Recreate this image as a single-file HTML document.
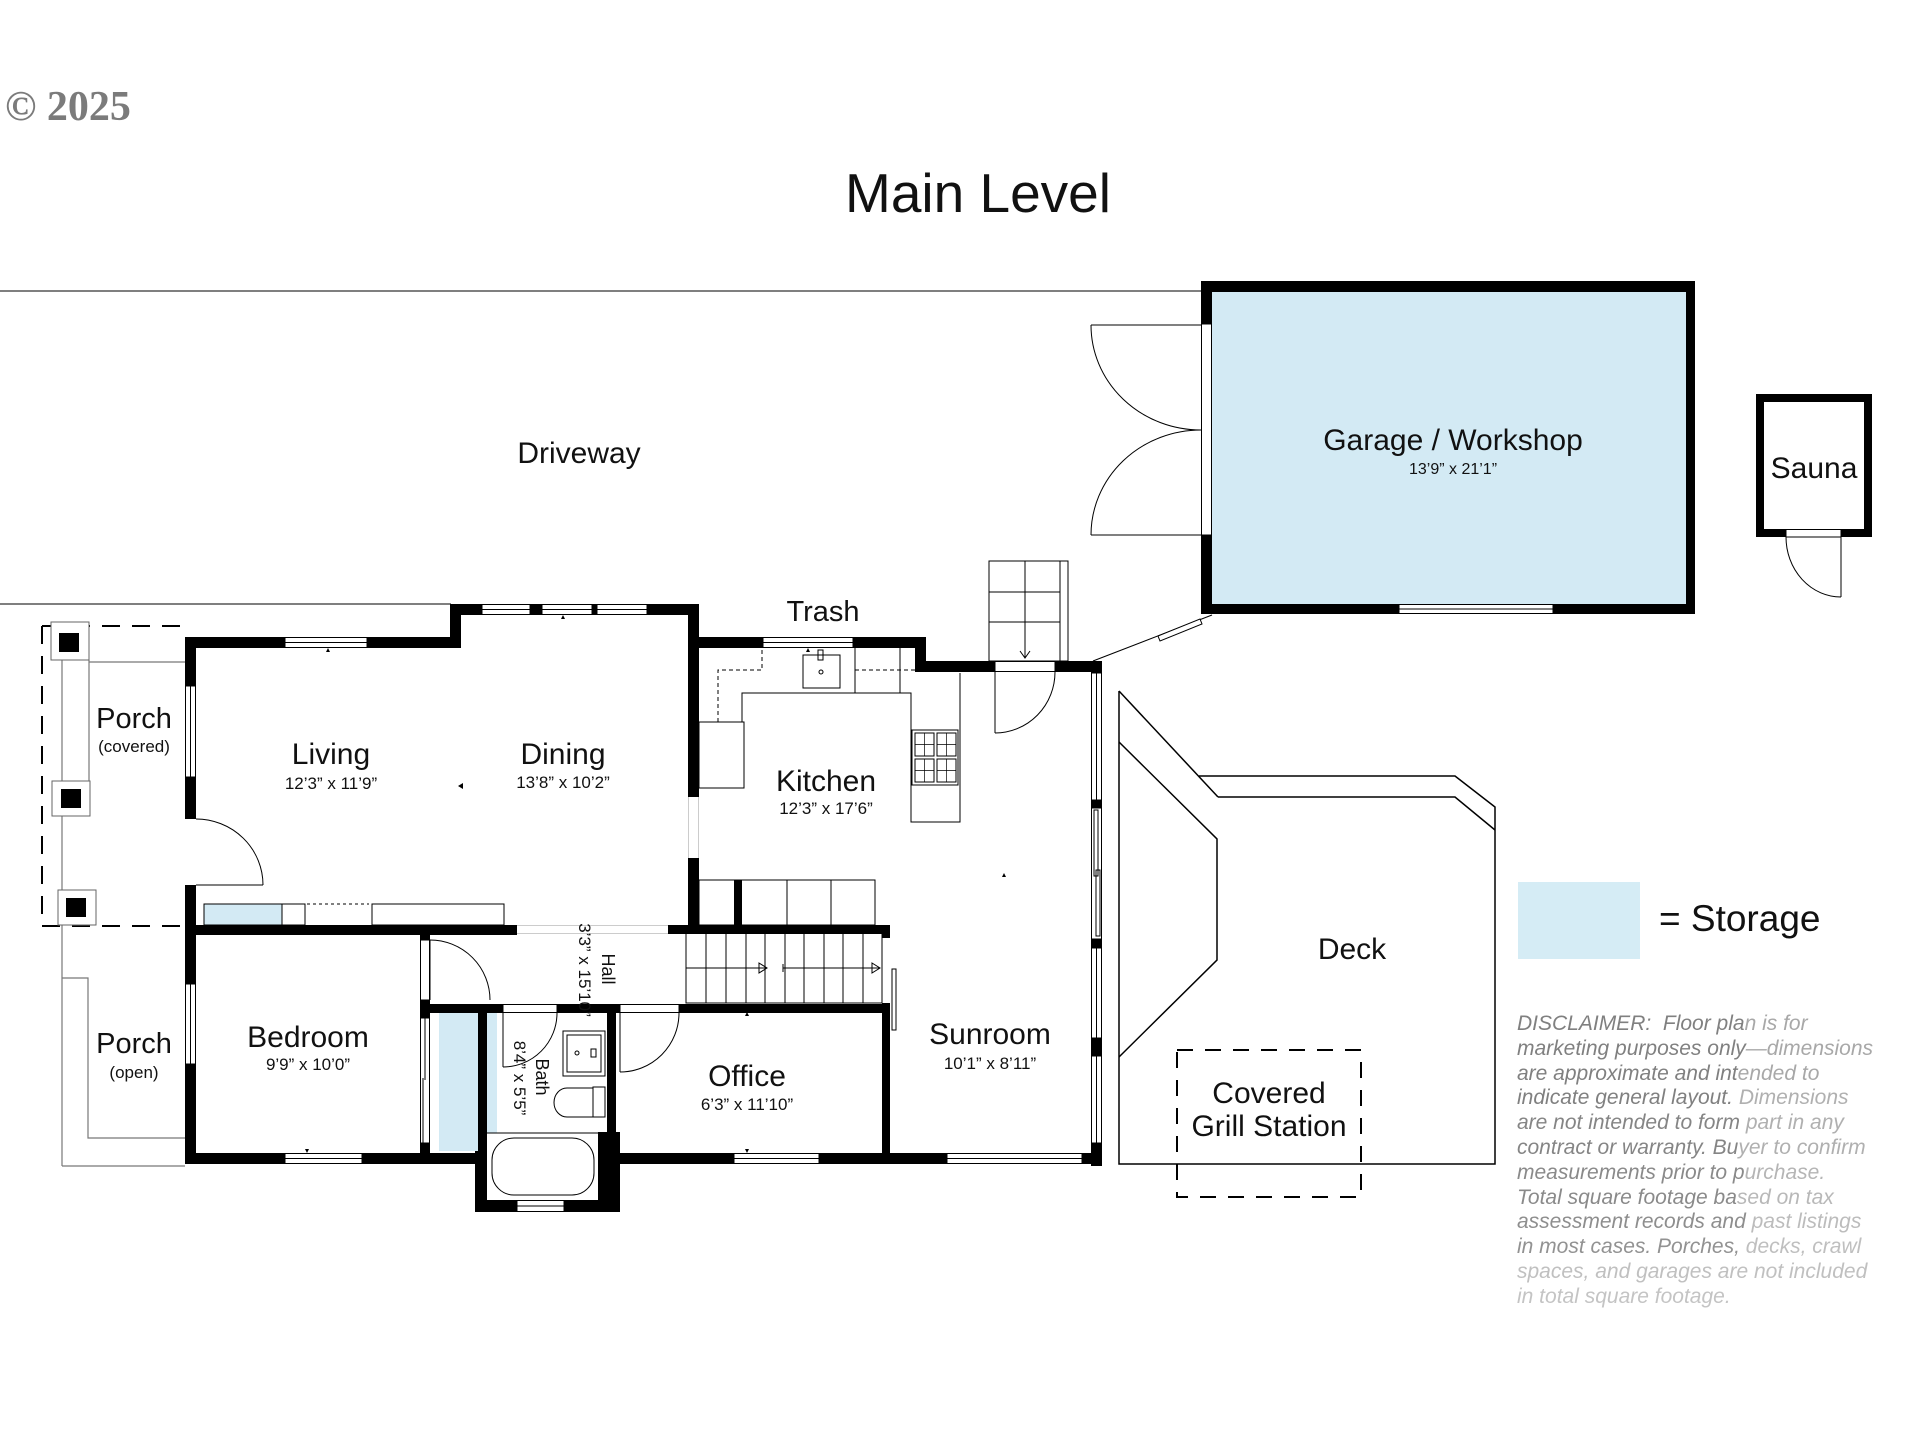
<!DOCTYPE html>
<html><head><meta charset="utf-8"><style>
html,body{margin:0;padding:0;background:#fff;}
svg{display:block;}
text{font-family:"Liberation Sans",sans-serif;fill:#111;}
</style></head><body>
<svg width="1920" height="1440" viewBox="0 0 1920 1440" xmlns="http://www.w3.org/2000/svg">
<rect width="1920" height="1440" fill="#fff"/>

<!-- copyright -->
<text x="5" y="120" style="font-family:'Liberation Serif',serif;font-weight:bold;font-size:42px;fill:#7b7b7b">© 2025</text>

<!-- title -->
<text x="978" y="212" text-anchor="middle" style="font-size:55px">Main Level</text>

<!-- driveway lines -->
<line x1="0" y1="291" x2="1201" y2="291" stroke="#555" stroke-width="1.5"/>
<line x1="0" y1="604" x2="451" y2="604" stroke="#555" stroke-width="1.5"/>
<text x="579" y="463" text-anchor="middle" style="font-size:30px">Driveway</text>

<!-- ===== GARAGE ===== -->
<rect x="1201" y="281" width="494" height="333" fill="#000"/>
<rect x="1212" y="292" width="474" height="312" fill="#d3eaf4"/>
<rect x="1201.5" y="324" width="10" height="211" fill="#fff" stroke="#000" stroke-width="1"/>
<rect x="1399" y="604.5" width="154" height="9" fill="#fff" stroke="#000" stroke-width="1"/>
<line x1="1399" y1="609" x2="1553" y2="609" stroke="#000" stroke-width="1"/>
<g fill="none" stroke="#000" stroke-width="1">
<line x1="1091" y1="325" x2="1201" y2="325"/>
<line x1="1091" y1="535" x2="1201" y2="535"/>
<path d="M1091,325 A110,105 0 0 0 1201,430"/>
<path d="M1091,535 A110,105 0 0 1 1201,430"/>
</g>
<text x="1453" y="450" text-anchor="middle" style="font-size:30px">Garage / Workshop</text>
<text x="1453" y="474" text-anchor="middle" style="font-size:16px">13’9” x 21’1”</text>

<!-- gate line -->
<line x1="1093" y1="661" x2="1212" y2="615" stroke="#000" stroke-width="1"/>
<polygon points="1158,636 1200,619 1202,624 1160,641" fill="#fff" stroke="#000" stroke-width="1"/>

<!-- ===== SAUNA ===== -->
<rect x="1756" y="394" width="116" height="143" fill="#000"/>
<rect x="1764" y="402" width="100" height="127" fill="#fff"/>
<rect x="1786" y="529.5" width="55" height="7.5" fill="#fff" stroke="#000" stroke-width="1"/>
<g fill="none" stroke="#000" stroke-width="1">
<line x1="1841" y1="537" x2="1841" y2="597"/>
<path d="M1786,537 A55,60 0 0 0 1841,597"/>
</g>
<text x="1814" y="478" text-anchor="middle" style="font-size:30px">Sauna</text>

<!-- ===== DECK ===== -->
<g fill="none" stroke="#000" stroke-width="1.5">
<line x1="1119" y1="691" x2="1218" y2="797"/>
<polyline points="1199,776 1455,776 1495,807 1495,1164 1119,1164 1119,691"/>
<polyline points="1218,797 1455,797 1495,830"/>
<polyline points="1119,742 1217,839 1217,960 1119,1057"/>
</g>
<text x="1352" y="959" text-anchor="middle" style="font-size:30px">Deck</text>
<rect x="1177" y="1050" width="184" height="147" fill="none" stroke="#000" stroke-width="2" stroke-dasharray="16 12"/>
<text x="1269" y="1103" text-anchor="middle" style="font-size:30px">Covered</text>
<text x="1269" y="1136" text-anchor="middle" style="font-size:30px">Grill Station</text>

<!-- ===== LEGEND ===== -->
<rect x="1518" y="882" width="122" height="77" fill="#d5ecf5"/>
<text x="1659" y="931" style="font-size:37px">= Storage</text>

<!-- disclaimer -->
<g style="font-style:italic;font-size:21px">
<text x="1517" y="1030"><tspan style="fill:#808080">DISCLAIMER:&#160; Floor pla</tspan><tspan style="fill:#a8a8a8">n is for</tspan></text>
<text x="1517" y="1055"><tspan style="fill:#808080">marketing purposes only</tspan><tspan style="fill:#a8a8a8">—dimensions</tspan></text>
<text x="1517" y="1080"><tspan style="fill:#808080">are approximate and int</tspan><tspan style="fill:#a8a8a8">ended to</tspan></text>
<text x="1517" y="1104"><tspan style="fill:#808080">indicate general layout. </tspan><tspan style="fill:#b0b0b0">Dimensions</tspan></text>
<text x="1517" y="1129"><tspan style="fill:#858585">are not intended to form </tspan><tspan style="fill:#b0b0b0">part in any</tspan></text>
<text x="1517" y="1154"><tspan style="fill:#858585">contract or warranty. Bu</tspan><tspan style="fill:#b0b0b0">yer to confirm</tspan></text>
<text x="1517" y="1179"><tspan style="fill:#8a8a8a">measurements prior to p</tspan><tspan style="fill:#b5b5b5">urchase.</tspan></text>
<text x="1517" y="1204"><tspan style="fill:#8a8a8a">Total square footage ba</tspan><tspan style="fill:#b8b8b8">sed on tax</tspan></text>
<text x="1517" y="1228"><tspan style="fill:#8e8e8e">assessment records and </tspan><tspan style="fill:#bcbcbc">past listings</tspan></text>
<text x="1517" y="1253"><tspan style="fill:#929292">in most cases. Porches, </tspan><tspan style="fill:#bfbfbf">decks, crawl</tspan></text>
<text x="1517" y="1278" style="fill:#c0c0c0">spaces, and garages are not included</text>
<text x="1517" y="1303" style="fill:#c4c4c4">in total square footage.</text>
</g>

<!-- ===== PORCH ===== -->
<g fill="none" stroke="#777" stroke-width="1.2">
<line x1="62" y1="660" x2="62" y2="1166"/>
<line x1="89" y1="660" x2="89" y2="781"/>
<line x1="89" y1="662" x2="185" y2="662"/>
<line x1="62" y1="1166" x2="185" y2="1166"/>
<polyline points="62,978 88,978 88,1138 185,1138"/>
</g>
<g fill="none" stroke="#000" stroke-width="2" stroke-dasharray="18 12">
<line x1="42" y1="626" x2="185" y2="626"/>
<line x1="42" y1="626" x2="42" y2="926"/>
<line x1="42" y1="926" x2="185" y2="926"/>
</g>
<rect x="51" y="622" width="38" height="38" fill="#fff" stroke="#666" stroke-width="1"/>
<rect x="59" y="633" width="20" height="19" fill="#000"/>
<rect x="52" y="781" width="38" height="35" fill="#fff" stroke="#666" stroke-width="1"/>
<rect x="61" y="789" width="20" height="19" fill="#000"/>
<rect x="58" y="890" width="38" height="35" fill="#fff" stroke="#666" stroke-width="1"/>
<rect x="66" y="898" width="20" height="19" fill="#000"/>
<text x="134" y="728" text-anchor="middle" style="font-size:29px">Porch</text>
<text x="134" y="752" text-anchor="middle" style="font-size:17px">(covered)</text>
<text x="134" y="1053" text-anchor="middle" style="font-size:29px">Porch</text>
<text x="134" y="1078" text-anchor="middle" style="font-size:17px">(open)</text>

<!-- ===== FIXTURES (under walls) ===== -->
<rect x="439" y="1013" width="39" height="138" fill="#d3eaf4"/>
<rect x="487" y="1013" width="10" height="120" fill="#d3eaf4"/>
<rect x="204" y="904" width="78" height="21" fill="#d3eaf4" stroke="#000" stroke-width="1"/>
<rect x="282" y="904" width="23" height="21" fill="none" stroke="#000" stroke-width="1"/>
<line x1="307" y1="904" x2="369" y2="904" stroke="#000" stroke-width="1" stroke-dasharray="3 3"/>
<rect x="372" y="904" width="132" height="21" fill="none" stroke="#000" stroke-width="1"/>

<!-- kitchen -->
<g fill="none" stroke="#000" stroke-width="1">
<path d="M718,722 V670 H762 V648" stroke-dasharray="4 3"/>
<line x1="855" y1="670" x2="915" y2="670" stroke-dasharray="4 3"/>
<rect x="699" y="722" width="45" height="66"/>
<path d="M742,722 V693 H911 V822 H960 V673"/>
<line x1="855" y1="648" x2="855" y2="693"/>
<line x1="900" y1="648" x2="900" y2="693"/>
<rect x="803" y="655" width="37" height="33"/>
<rect x="818" y="650" width="5" height="10"/>
<circle cx="821" cy="672" r="2"/>
<rect x="912" y="730" width="46" height="55"/>
<rect x="915" y="733" width="19" height="23"/><rect x="937" y="733" width="19" height="23"/>
<rect x="915" y="759" width="19" height="23"/><rect x="937" y="759" width="19" height="23"/>
<path d="M924.5,733 V756 M915,744.5 H934 M946.5,733 V756 M937,744.5 H956 M924.5,759 V782 M915,770.5 H934 M946.5,759 V782 M937,770.5 H956" stroke-width="0.7"/>
<rect x="699" y="880" width="176" height="45"/>
<line x1="787" y1="880" x2="787" y2="925"/>
<line x1="831" y1="880" x2="831" y2="925"/>
</g>

<!-- interior stairs -->
<g fill="none" stroke="#000" stroke-width="1">
<rect x="686" y="933" width="196" height="70"/>
<path d="M706,933V1003 M726,933V1003 M746,933V1003 M765,933V1003 M785,933V1003 M804,933V1003 M824,933V1003 M843,933V1003 M863,933V1003"/>
<line x1="686" y1="968" x2="766" y2="968"/>
<polygon points="759,963 767,968 759,973"/>
<line x1="783" y1="968" x2="880" y2="968"/>
<line x1="783" y1="964" x2="783" y2="972"/>
<polygon points="872,963 880,968 872,973"/>
<rect x="892" y="969" width="4" height="61"/>
</g>

<!-- exterior stairs -->
<g fill="#fff" stroke="#000" stroke-width="1">
<rect x="989" y="561" width="79" height="100"/>
<rect x="1060" y="561" width="8" height="100"/>
<line x1="989" y1="592" x2="1060" y2="592"/>
<line x1="989" y1="622" x2="1060" y2="622"/>
<line x1="1025" y1="561" x2="1025" y2="658"/>
<polyline points="1020,651 1025,658 1030,651" fill="none"/>
</g>

<!-- bath fixtures -->
<g fill="none" stroke="#000" stroke-width="1">
<rect x="563" y="1031" width="42" height="45"/>
<rect x="567" y="1035" width="34" height="37"/>
<circle cx="577" cy="1053" r="2"/>
<rect x="591" y="1049" width="5" height="8"/>
<rect x="593" y="1087" width="12" height="30"/>
<path d="M593,1088 H567 A13,14.5 0 0 0 567,1117 H593"/>
<line x1="487" y1="1133" x2="598" y2="1133"/>
<rect x="492" y="1138" width="102" height="57" rx="22" ry="22"/>
</g>

<!-- ===== WALLS ===== -->
<g fill="#000">
<rect x="185" y="637" width="276" height="11"/>
<rect x="450" y="604" width="11" height="44"/>
<rect x="450" y="604" width="249" height="11"/>
<rect x="688" y="604" width="11" height="193"/>
<rect x="688" y="858" width="11" height="75"/>
<rect x="688" y="637" width="238" height="11"/>
<rect x="915" y="637" width="11" height="35"/>
<rect x="915" y="661" width="187" height="11"/>
<rect x="1091" y="661" width="11" height="505"/>
<rect x="185" y="637" width="11" height="527"/>
<rect x="185" y="1153" width="293" height="11"/>
<rect x="598" y="1153" width="504" height="11"/>
<rect x="475" y="1151" width="12" height="61"/>
<rect x="475" y="1200" width="145" height="12"/>
<rect x="598" y="1132" width="22" height="80"/>
<rect x="185" y="925" width="332" height="10"/>
<rect x="668" y="925" width="222" height="9"/>
<rect x="882" y="925" width="8" height="13"/>
<rect x="420" y="1004" width="470" height="9"/>
<rect x="420" y="925" width="10" height="239"/>
<rect x="478" y="1004" width="9" height="208"/>
<rect x="607" y="1004" width="9" height="135"/>
<rect x="882" y="1003" width="8" height="161"/>
<rect x="734" y="880" width="8" height="45"/>
</g>

<!-- openings -->
<g stroke="#000" stroke-width="1">
<rect x="285" y="637.5" width="82" height="10" fill="#fff"/><line x1="285" y1="642.5" x2="367" y2="642.5"/>
<rect x="482" y="604.5" width="48" height="10" fill="#fff"/><line x1="482" y1="609.5" x2="530" y2="609.5"/>
<rect x="542" y="604.5" width="50" height="10" fill="#fff"/><line x1="542" y1="609.5" x2="592" y2="609.5"/>
<rect x="597" y="604.5" width="50" height="10" fill="#fff"/><line x1="597" y1="609.5" x2="647" y2="609.5"/>
<rect x="763" y="637.5" width="90" height="10" fill="#fff"/><line x1="763" y1="642.5" x2="853" y2="642.5"/>
<rect x="285" y="1153.5" width="77" height="10" fill="#fff"/><line x1="285" y1="1158.5" x2="362" y2="1158.5"/>
<rect x="734" y="1153.5" width="85" height="10" fill="#fff"/><line x1="734" y1="1158.5" x2="819" y2="1158.5"/>
<rect x="947" y="1153.5" width="135" height="10" fill="#fff"/><line x1="947" y1="1158.5" x2="1082" y2="1158.5"/>
<rect x="517" y="1200.5" width="47" height="11" fill="#fff"/><line x1="517" y1="1206" x2="564" y2="1206"/>
<rect x="185.5" y="686" width="10" height="91" fill="#fff"/><line x1="190.5" y1="686" x2="190.5" y2="777"/>
<rect x="185.5" y="984" width="10" height="80" fill="#fff"/><line x1="190.5" y1="984" x2="190.5" y2="1064"/>
<rect x="1091.5" y="673" width="10" height="127" fill="#fff"/><line x1="1096.5" y1="673" x2="1096.5" y2="800"/>
<rect x="1091.5" y="808" width="10" height="131" fill="#fff"/><rect x="1094" y="810" width="4" height="66" fill="none"/><rect x="1096" y="870" width="4" height="66" fill="none"/>
<rect x="1091.5" y="948" width="10" height="90" fill="#fff"/><line x1="1096.5" y1="948" x2="1096.5" y2="1038"/>
<rect x="1091.5" y="1056" width="10" height="87" fill="#fff"/><line x1="1096.5" y1="1056" x2="1096.5" y2="1143"/>
<rect x="995" y="661.5" width="60" height="10" fill="#fff"/>
<rect x="503" y="1004.5" width="54" height="8" fill="#fff"/>
<rect x="620" y="1004.5" width="59" height="8" fill="#fff"/>
<rect x="420.5" y="940" width="9" height="60" fill="#fff"/>
<rect x="420.5" y="1018" width="9" height="125" fill="#fff"/>
<line x1="425" y1="1018" x2="425" y2="1080"/><line x1="423" y1="1078" x2="423" y2="1143"/>
</g>
<rect x="185" y="819" width="11" height="66" fill="#fff"/>
<rect x="688" y="797" width="11" height="61" fill="#fff"/>
<line x1="688.5" y1="797" x2="688.5" y2="858" stroke="#ccc" stroke-width="1"/>
<line x1="698.5" y1="797" x2="698.5" y2="858" stroke="#ccc" stroke-width="1"/>
<line x1="517" y1="925.5" x2="668" y2="925.5" stroke="#ccc" stroke-width="1"/>
<line x1="517" y1="933.5" x2="668" y2="933.5" stroke="#ccc" stroke-width="1"/>

<!-- door swings -->
<g fill="none" stroke="#000" stroke-width="1">
<line x1="196" y1="885" x2="263" y2="885"/>
<path d="M263,885 A67,66 0 0 0 196,819"/>
<line x1="430" y1="940" x2="430" y2="1000"/>
<path d="M430,940 A60,60 0 0 1 490,1000"/>
<line x1="503" y1="1013" x2="503" y2="1067"/>
<path d="M503,1067 A54,54 0 0 0 557,1013"/>
<line x1="620" y1="1013" x2="620" y2="1072"/>
<path d="M620,1072 A59,59 0 0 0 679,1013"/>
<line x1="995" y1="672" x2="995" y2="733"/>
<path d="M995,733 A60,61 0 0 0 1055,672"/>
</g>

<!-- small markers -->
<g fill="#000">
<polygon points="326,652 330,652 328,648"/>
<polygon points="561,619 565,619 563,615"/>
<polygon points="806,652 810,652 808,648"/>
<polygon points="458,786 463,783 463,789"/>
<polygon points="1002,877 1006,877 1004,873"/>
<polygon points="745,1016 749,1016 747,1012"/>
<polygon points="305,1149 309,1149 307,1153"/>
<polygon points="745,1149 749,1149 747,1153"/>
</g>

<!-- ===== ROOM LABELS ===== -->
<text x="331" y="764" text-anchor="middle" style="font-size:30px">Living</text>
<text x="331" y="789" text-anchor="middle" style="font-size:17px">12’3” x 11’9”</text>
<text x="563" y="764" text-anchor="middle" style="font-size:30px">Dining</text>
<text x="563" y="788" text-anchor="middle" style="font-size:17px">13’8” x 10’2”</text>
<text x="826" y="791" text-anchor="middle" style="font-size:30px">Kitchen</text>
<text x="826" y="814" text-anchor="middle" style="font-size:17px">12’3” x 17’6”</text>
<text x="823" y="621" text-anchor="middle" style="font-size:29px">Trash</text>
<text x="308" y="1047" text-anchor="middle" style="font-size:30px">Bedroom</text>
<text x="308" y="1070" text-anchor="middle" style="font-size:17px">9’9” x 10’0”</text>
<text x="747" y="1086" text-anchor="middle" style="font-size:30px">Office</text>
<text x="747" y="1110" text-anchor="middle" style="font-size:17px">6’3” x 11’10”</text>
<text x="990" y="1044" text-anchor="middle" style="font-size:30px">Sunroom</text>
<text x="990" y="1069" text-anchor="middle" style="font-size:17px">10’1” x 8’11”</text>
<text transform="translate(602,969) rotate(90)" text-anchor="middle" style="font-size:18px">Hall</text>
<text transform="translate(579,970) rotate(90)" text-anchor="middle" style="font-size:17px">3’3” x 15’10”</text>
<text transform="translate(536,1077) rotate(90)" text-anchor="middle" style="font-size:18px">Bath</text>
<text transform="translate(514,1078) rotate(90)" text-anchor="middle" style="font-size:17px">8’4” x 5’5”</text>
</svg>
</body></html>
